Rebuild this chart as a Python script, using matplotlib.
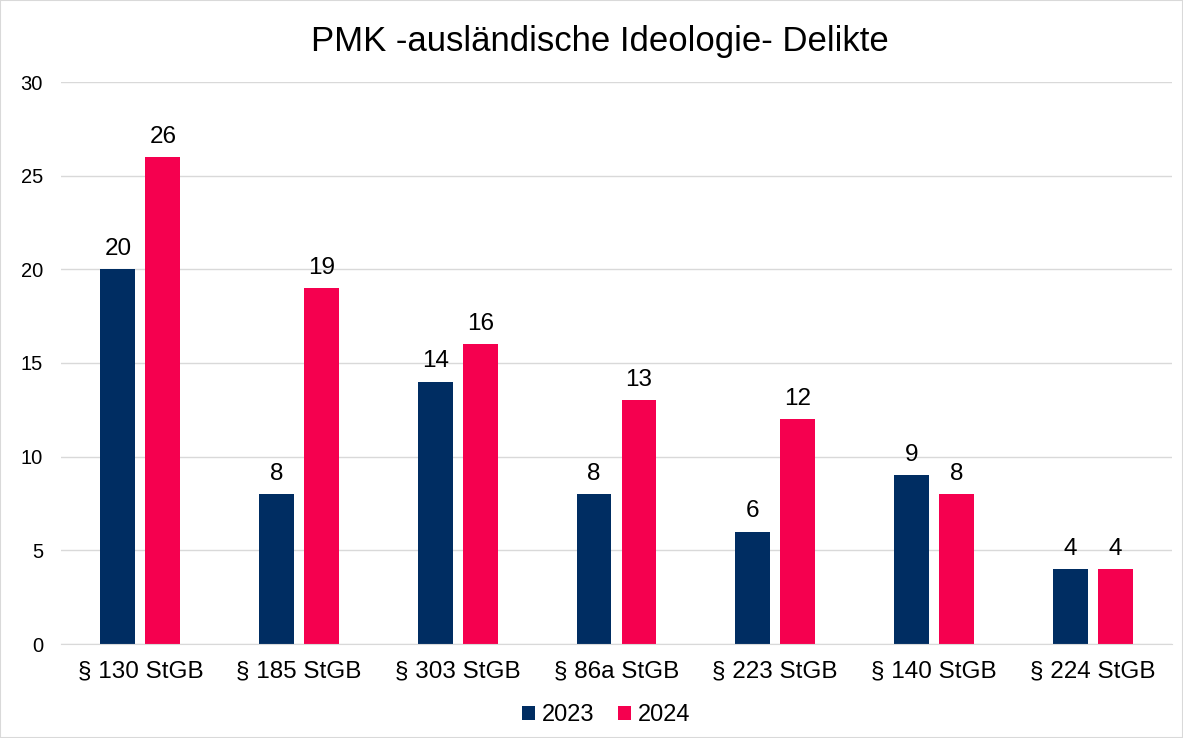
import numpy as np
import matplotlib.pyplot as plt
from matplotlib.patches import Rectangle

categories = ['§ 130 StGB', '§ 185 StGB', '§ 303 StGB', '§ 86a StGB',
              '§ 223 StGB', '§ 140 StGB', '§ 224 StGB']
vals_2023 = [20, 8, 14, 8, 6, 9, 4]
vals_2024 = [26, 19, 16, 13, 12, 8, 4]
yticks = [0, 5, 10, 15, 20, 25, 30]

blue = '#002D62'
red = '#F5004F'

plt.rcParams['font.family'] = ['Liberation Sans', 'DejaVu Sans']

fig = plt.figure(figsize=(11.83, 7.38), dpi=100)
ax = fig.add_axes([61 / 1183, 1 - 644 / 738, 1111 / 1183, 562 / 738])

x = np.arange(len(categories))
w = 0.22
off = 0.142
b1 = ax.bar(x - off, vals_2023, w, color=blue, label='2023', zorder=3)
b2 = ax.bar(x + off, vals_2024, w, color=red, label='2024', zorder=3)

for bars in (b1, b2):
    for rect in bars:
        h = rect.get_height()
        ax.text(rect.get_x() + rect.get_width() / 2, h + 0.5, f'{h:g}',
                ha='center', va='bottom', fontsize=17.5)

ax.set_xlim(-0.5, len(categories) - 0.5)
ax.set_ylim(0, 30)
ax.set_yticks(yticks)
ax.set_xticks(x)
ax.set_xticklabels(categories, fontsize=17.5)
ax.tick_params(axis='y', labelsize=14.5, length=0, pad=13)
ax.tick_params(axis='x', length=0, pad=12)
ax.yaxis.grid(True, color='#D9D9D9', linewidth=1, zorder=0)
for s in ['top', 'right', 'left']:
    ax.spines[s].set_visible(False)
ax.spines['bottom'].set_color('#D9D9D9')
ax.spines['bottom'].set_zorder(4)

fig.text(600 / 1183, 1 - 42 / 738, 'PMK -ausländische Ideologie- Delikte',
         ha='center', va='center', fontsize=25)

fig.legend(handles=[b1, b2], labels=['2023', '2024'], loc='center',
           bbox_to_anchor=(606 / 1183, 1 - 715 / 738), ncol=2, frameon=False,
           fontsize=17, handlelength=0.55, handleheight=0.55, handletextpad=0.3,
           columnspacing=1.0)

fig.patches.append(Rectangle((0, 0), 1, 1, transform=fig.transFigure,
                             fill=False, edgecolor='#D9D9D9', linewidth=1.5))

fig.savefig('out.png', dpi=100)
